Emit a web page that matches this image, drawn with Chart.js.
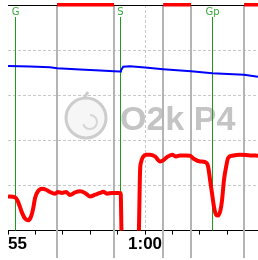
<!DOCTYPE html>
<html>
<head>
<meta charset="utf-8">
<script src="https://cdn.jsdelivr.net/npm/chart.js@4"></script>
<style>
  html, body { margin: 0; padding: 0; background: #fff; }
</style>
</head>
<body>
<canvas id="chart" width="258" height="260"></canvas>
<script>
// time in minutes (55 = 0:55, 60 = 1:00)
const fluxTimes = [55.00, 55.26, 55.36, 55.51, 55.62, 55.73, 55.84, 55.91, 55.99, 56.09, 56.24, 56.39, 56.53, 56.72, 56.82, 56.97, 57.12, 57.26, 57.45, 57.63, 57.81, 57.99, 58.18, 58.36, 58.47, 58.61, 58.80, 59.01, 59.11, 59.15, 59.76, 59.82, 59.85, 59.93, 60.04, 60.18, 60.36, 60.55, 60.66, 60.80, 60.99, 61.13, 61.28, 61.46, 61.64, 61.79, 62.01, 62.19, 62.30, 62.37, 62.45, 62.52, 62.59, 62.66, 62.74, 62.81, 62.88, 62.96, 63.03, 63.18, 63.47, 63.83, 64.12];
const fluxValues = [37.9, 36.8, 32.4, 19.9, 13.3, 11.4, 15.5, 23.2, 36.5, 43.5, 46.5, 45.3, 42.8, 40.9, 42.8, 41.7, 42.8, 39.5, 42.4, 43.5, 41.7, 37.9, 39.8, 41.7, 43.1, 40.9, 41.7, 41.7, 41.5, -10, -10, 67.5, 75.2, 81.8, 84.1, 84.1, 82.2, 76.6, 77.8, 81.5, 84.1, 82.2, 83.3, 83.3, 83.0, 79.3, 76.6, 76.0, 71.1, 56.4, 39.8, 25.4, 17.7, 16.6, 21.3, 34.3, 56.4, 71.1, 80.4, 83.0, 84.1, 83.3, 83.0];

const o2Times = [55.00, 55.80, 56.53, 56.79, 57.63, 58.36, 58.87, 59.09, 59.12, 59.20, 59.45, 60.00, 60.66, 61.68, 62.45, 63.61, 64.12];
const o2Values = [182.5, 181.9, 181.1, 180.0, 178.6, 177.3, 176.6, 176.4, 177.5, 181.7, 182.2, 180.8, 178.9, 176.6, 174.4, 172.6, 170.4];

const phaseTimes = [56.79, 58.87, 60.66, 61.68, 63.61];
const redPhases = [[56.79, 58.87], [60.66, 61.68], [63.61, 64.12]];
const markerTimes = [55.26, 59.12, 62.45];
const markerLabels = ["G", "S", "Gp"];
const xTickLabels = { 55: "55", 60: "1:00" };

const pts = (xs, ys) => xs.map((t, i) => ({ x: t, y: ys[i] }));

const watermark = {
  id: "watermark",
  beforeDraw(chart) {
    const ctx = chart.ctx;
    ctx.save();
    // logo
    ctx.fillStyle = "#f6f6f6";
    ctx.strokeStyle = "#cdcdcd";
    ctx.lineWidth = 3;
    ctx.beginPath();
    ctx.arc(86, 118, 20, 0, Math.PI * 2);
    ctx.fill();
    ctx.stroke();
    ctx.beginPath();
    ctx.moveTo(84, 98);
    ctx.lineTo(88, 92);
    ctx.stroke();
    ctx.lineWidth = 2;
    ctx.strokeStyle = "#d6d6d6";
    ctx.beginPath();
    ctx.arc(90, 122, 7, -0.5 * Math.PI, 0.9 * Math.PI);
    ctx.stroke();
    // text
    ctx.fillStyle = "#c4c4c4";
    ctx.font = 'bold 34px "Liberation Sans"';
    ctx.textBaseline = "alphabetic";
    ctx.fillText("O2k P4", 120, 130);
    ctx.restore();
  }
};

const overlay = {
  id: "overlay",
  beforeDatasetsDraw(chart) {
    const { ctx, chartArea: a, scales: { x } } = chart;
    ctx.save();
    // phase boundaries
    ctx.strokeStyle = "#b4b4b4";
    ctx.lineWidth = 2;
    phaseTimes.forEach(t => {
      const px = Math.round(x.getPixelForValue(t));
      ctx.beginPath();
      ctx.moveTo(px, a.top);
      ctx.lineTo(px, chart.height - 2);
      ctx.stroke();
    });
    // event markers
    ctx.font = '10px "DejaVu Sans"';
    ctx.textAlign = "center";
    ctx.textBaseline = "alphabetic";
    markerTimes.forEach((t, i) => {
      const px = Math.floor(x.getPixelForValue(t));
      ctx.fillStyle = "#1f9a1f";
      ctx.fillRect(px, a.top + 12, 1, a.bottom - a.top - 12);
      ctx.fillStyle = "#3aa83a";
      ctx.fillText(markerLabels[i], px + 0.5, a.top + 10);
    });
    // top border
    ctx.strokeStyle = "#000";
    ctx.lineWidth = 1;
    ctx.beginPath();
    ctx.moveTo(a.left, a.top + 0.5);
    ctx.lineTo(a.right, a.top + 0.5);
    ctx.stroke();
    // phase bars
    ctx.fillStyle = "#ff0000";
    redPhases.forEach(([s, e]) => {
      const x0 = x.getPixelForValue(s), x1 = x.getPixelForValue(e);
      ctx.fillRect(x0, a.top - 2, x1 - x0, 3.5);
    });
    ctx.restore();
  }
};

new Chart(document.getElementById("chart"), {
  type: "line",
  data: {
    datasets: [
      {
        data: pts(o2Times, o2Values),
        borderColor: "#0000ff",
        borderWidth: 2,
        pointRadius: 0,
        tension: 0
      },
      {
        data: pts(fluxTimes, fluxValues),
        borderColor: "#ff0000",
        borderWidth: 4,
        pointRadius: 0,
        cubicInterpolationMode: "monotone"
      }
    ]
  },
  options: {
    responsive: false,
    animation: false,
    layout: { padding: { left: 8, top: 5, right: 0, bottom: 5 } },
    plugins: { legend: { display: false }, tooltip: { enabled: false } },
    scales: {
      x: {
        type: "linear",
        min: 55,
        max: 64.12,
        ticks: {
          stepSize: 1,
          autoSkip: false,
          maxRotation: 0,
          align: "inner",
          padding: 0,
          color: "#000",
          font: { size: 17, weight: "bold", family: "Liberation Sans" },
          callback: v => xTickLabels[v] || ""
        },
        grid: {
          color: c => (c.tick && c.tick.value === 60 ? "#c8c8c8" : "rgba(0,0,0,0)"),
          tickColor: "#000",
          tickLength: 4
        },
        border: { color: "#000", width: 1, dash: [3, 2] }
      },
      y: {
        min: 0,
        max: 250,
        ticks: { display: false, stepSize: 50 },
        grid: {
          color: c => (c.tick && c.tick.value > 0 && c.tick.value < 250 ? "#c8c8c8" : "rgba(0,0,0,0)"),
          drawTicks: false
        },
        border: { display: false, dash: [3, 2] }
      }
    }
  },
  plugins: [watermark, overlay]
});
</script>
</body>
</html>
